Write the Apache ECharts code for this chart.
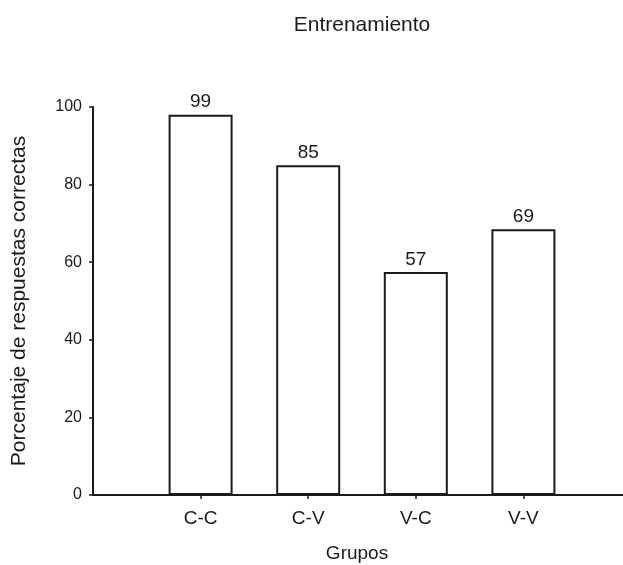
<!DOCTYPE html>
<html>
<head>
<meta charset="utf-8">
<script src="https://cdn.jsdelivr.net/npm/echarts@6/dist/echarts.min.js"></script>
<style>html,body{margin:0;padding:0;background:#fff;}#c{width:623px;height:565px;}</style>
</head>
<body>
<div id="c"></div>
<script>
const categories = ['', 'C-C', 'C-V', 'V-C', 'V-V', ''];
const barValues = ['-', 98, 85, 57.5, 68.5, '-'];
const barLabels = ['', '99', '85', '57', '69', ''];
const yTicks = { min: 0, max: 100, interval: 20 };
const titleText = 'Entrenamiento';
const yName = 'Porcentaje de respuestas correctas';
const xName = 'Grupos';

const font = 'Liberation Sans, Arial, sans-serif';
const ink = '#1a1a1a';
const chart = echarts.init(document.getElementById('c'), null, { renderer: 'canvas' });
chart.setOption({
  animation: false,
  backgroundColor: '#fff',
  title: {
    text: titleText, left: 357, top: 10, textAlign: 'center',
    textStyle: { fontFamily: font, fontSize: 21, fontWeight: 'normal', color: ink }
  },
  grid: { left: 93, top: 107, bottom: 70, width: 538, containLabel: false, outerBoundsMode: 'none' },
  xAxis: {
    type: 'category', data: categories, boundaryGap: false,
    name: xName, nameLocation: 'middle', nameGap: 49,
    nameTextStyle: { fontFamily: font, fontSize: 19, color: ink, padding: [0, 10, 0, 0] },
    axisLine: { show: true, lineStyle: { color: ink, width: 2 } },
    axisTick: { show: true, length: 4, lineStyle: { color: ink, width: 1.5 },
      interval: function (i, v) { return v !== ''; } },
    axisLabel: { fontFamily: font, fontSize: 19, color: ink, margin: 14, interval: 0 },
    splitLine: { show: false }
  },
  yAxis: {
    type: 'value', min: yTicks.min, max: yTicks.max, interval: yTicks.interval,
    name: yName, nameLocation: 'middle', nameGap: 63, nameRotate: 90,
    nameTextStyle: { fontFamily: font, fontSize: 21, color: ink },
    axisLine: { show: true, lineStyle: { color: ink, width: 2 } },
    axisTick: { show: true, length: 4, inside: false, lineStyle: { color: ink, width: 1.5 } },
    axisLabel: { fontFamily: font, fontSize: 16, color: ink, margin: 11 },
    splitLine: { show: false }
  },
  series: [{
    type: 'bar', data: barValues, barWidth: 64,
    itemStyle: { color: '#fff', borderColor: ink, borderWidth: 2 },
    label: {
      show: true, position: 'top', distance: 3,
      fontFamily: font, fontSize: 19, color: ink,
      formatter: function (p) { return barLabels[p.dataIndex]; }
    }
  }]
});
</script>
</body>
</html>
